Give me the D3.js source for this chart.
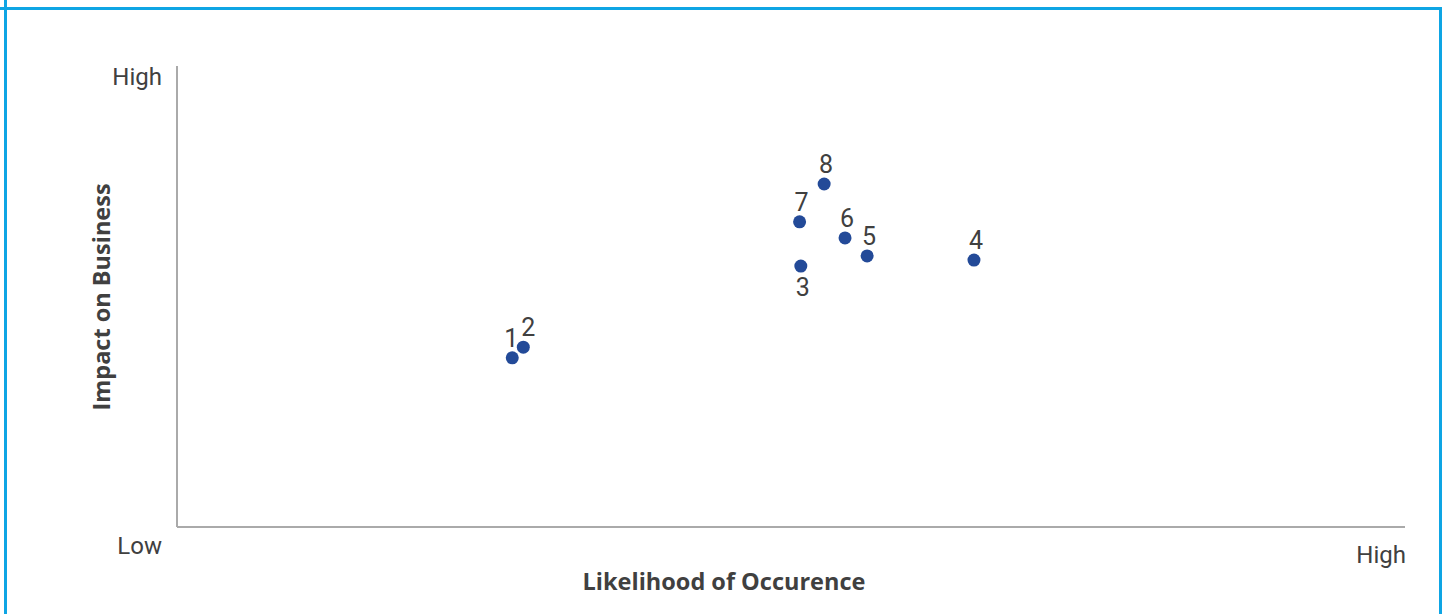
<!DOCTYPE html>
<html lang="en">
<head>
    <meta charset="UTF-8">
    <title>Risk Matrix</title>
    <script src="https://d3js.org/d3.v7.min.js"></script>
    <style>
        body { margin: 0; background: #fff; }
        text { font-family: Roboto, "Open Sans", sans-serif; fill: #404040; }
        .title { font-family: "Open Sans", Roboto, sans-serif; font-weight: bold; font-size: 23.5px; }
    </style>
</head>
<body>
<svg id="main" width="1448" height="614"></svg>
<script>
    // risk ids, likelihood (x) and impact (y) on a 0-100 scale
    let ids = ['1', '2', '3', '4', '5', '6', '7', '8'];
    let likelihood = [27.3, 28.2, 50.8, 64.9, 56.2, 54.4, 50.7, 52.7];
    let impact = [36.7, 39.0, 56.6, 57.9, 58.8, 62.7, 66.2, 74.4];
    let labelBelow = ['3'];
    let axisLow = 'Low', axisHigh = 'High';

    let svg = d3.select('svg#main');
    let plot = {left: 177, right: 1405, top: 66, bottom: 527};

    let xScale = d3.scaleLinear().domain([0, 100]).range([plot.left, plot.right]);
    let yScale = d3.scaleLinear().domain([0, 100]).range([plot.bottom, plot.top]);

    // blue frame
    let frame = '#0ea5e4';
    svg.append('line').attr('x1', 0).attr('x2', 1442).attr('y1', 8.5).attr('y2', 8.5)
        .attr('stroke', frame).attr('stroke-width', 3);
    svg.append('line').attr('x1', 5.5).attr('x2', 5.5).attr('y1', 0).attr('y2', 614)
        .attr('stroke', frame).attr('stroke-width', 3);
    svg.append('line').attr('x1', 1440.5).attr('x2', 1440.5).attr('y1', 7).attr('y2', 614)
        .attr('stroke', frame).attr('stroke-width', 3);

    // axes
    svg.append('line').attr('x1', xScale(0)).attr('x2', xScale(0))
        .attr('y1', yScale(100)).attr('y2', yScale(0))
        .attr('stroke', '#aaa').attr('stroke-width', 2);
    svg.append('line').attr('x1', xScale(0)).attr('x2', xScale(100))
        .attr('y1', yScale(0)).attr('y2', yScale(0))
        .attr('stroke', '#aaa').attr('stroke-width', 2);

    svg.append('text').text(axisHigh).attr('x', 162).attr('y', 85)
        .attr('text-anchor', 'end').style('font-size', '24px');
    svg.append('text').text(axisLow).attr('x', 162).attr('y', 554)
        .attr('text-anchor', 'end').style('font-size', '24px');
    svg.append('text').text(axisHigh).attr('x', 1406).attr('y', 563)
        .attr('text-anchor', 'end').style('font-size', '24px');

    svg.append('text').attr('class', 'title').text('Likelihood of Occurence')
        .attr('x', 724).attr('y', 590)
        .attr('text-anchor', 'middle');
    svg.append('text').attr('class', 'title').text('Impact on Business')
        .attr('transform', 'translate(110,297) rotate(-90)')
        .attr('text-anchor', 'middle');

    let data = ids.map(function (d, i) {
        return {id: d, x: likelihood[i], y: impact[i]};
    });

    svg.selectAll('circle.pt')
        .data(data)
        .enter()
        .append('circle')
        .attr('class', 'pt')
        .attr('cx', function (d) { return xScale(d.x); })
        .attr('cy', function (d) { return yScale(d.y); })
        .attr('r', 6.5)
        .style('fill', '#234a98');

    // small nudge so the crowded 1/2 labels sit apart
    let nudge = {'1': -3, '2': 3};
    svg.selectAll('text.lbl')
        .data(data)
        .enter()
        .append('text')
        .attr('class', 'lbl')
        .attr('x', function (d) { return xScale(d.x) + 2 + (nudge[d.id] || 0); })
        .attr('y', function (d) {
            return labelBelow.includes(d.id) ? yScale(d.y) + 30 : yScale(d.y) - 11;
        })
        .attr('text-anchor', 'middle')
        .style('font-size', '25px')
        .text(function (d) { return d.id; });
</script>
</body>
</html>
